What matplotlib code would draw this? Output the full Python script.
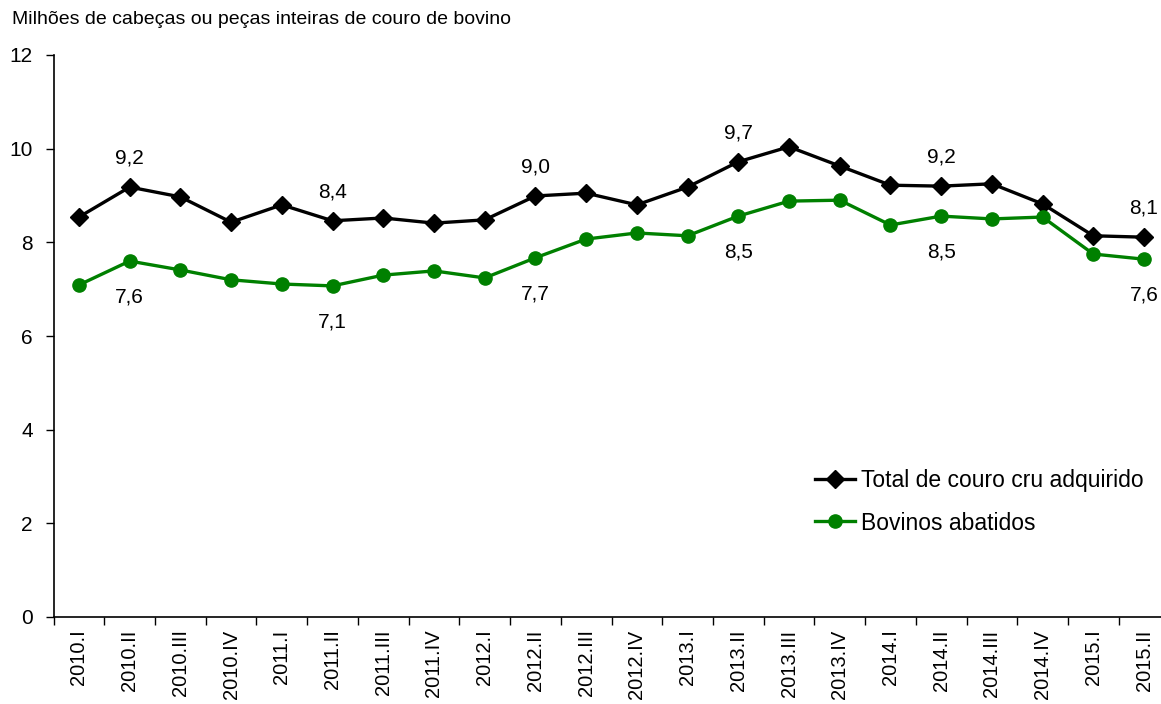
import matplotlib.pyplot as plt
import numpy as np

plt.rcParams['font.family'] = ['Liberation Sans', 'DejaVu Sans']

quarters = ['2010.I', '2010.II', '2010.III', '2010.IV',
            '2011.I', '2011.II', '2011.III', '2011.IV',
            '2012.I', '2012.II', '2012.III', '2012.IV',
            '2013.I', '2013.II', '2013.III', '2013.IV',
            '2014.I', '2014.II', '2014.III', '2014.IV',
            '2015.I', '2015.II']

total_couro = [8.54, 9.18, 8.97, 8.43, 8.80, 8.46, 8.52, 8.41, 8.48, 8.99, 9.05,
               8.80, 9.18, 9.72, 10.04, 9.63, 9.22, 9.20, 9.25, 8.82, 8.14, 8.11]
bovinos = [7.09, 7.60, 7.41, 7.20, 7.11, 7.07, 7.30, 7.39, 7.24, 7.67, 8.07,
           8.20, 8.14, 8.56, 8.88, 8.90, 8.37, 8.56, 8.50, 8.54, 7.75, 7.64]

# labelled points: index -> text
total_labels = {1: '9,2', 5: '8,4', 9: '9,0', 13: '9,7', 17: '9,2', 21: '8,1'}
bov_labels = {1: '7,6', 5: '7,1', 9: '7,7', 13: '8,5', 17: '8,5', 21: '7,6'}

fig = plt.figure(figsize=(11.61, 7.04), dpi=100)
ax = fig.add_axes([53.6 / 1161, 87 / 704, (1169.4 - 53.6) / 1161, 562 / 704])

x = np.arange(len(quarters))
green = '#008000'
ax.plot(x, total_couro, color='black', lw=2.4, marker='D', markersize=9,
        label='Total de couro cru adquirido')
ax.plot(x, bovinos, color=green, lw=2.4, marker='o', markersize=9.5,
        label='Bovinos abatidos')

for i, t in total_labels.items():
    ax.annotate(t, (x[i], total_couro[i]), xytext=(0, 21), textcoords='offset points',
                ha='center', va='center', fontsize=15)
for i, t in bov_labels.items():
    ax.annotate(t, (x[i], bovinos[i]), xytext=(0, -26), textcoords='offset points',
                ha='center', va='center', fontsize=15)

ax.set_xlim(-0.5, len(quarters) - 0.5)
ax.set_ylim(0, 12)
ax.set_yticks(range(0, 13, 2))
ax.tick_params(axis='y', direction='out', length=6, width=1, labelsize=15, pad=9)

ax.set_xticks(x)
ax.set_xticklabels(quarters, rotation=90, fontsize=14.5)
ax.set_xticks(np.arange(-0.5, len(quarters), 1), minor=True)
ax.tick_params(axis='x', which='major', length=0, pad=9)
ax.tick_params(axis='x', which='minor', direction='out', length=6, width=1)

for s in ['top', 'right']:
    ax.spines[s].set_visible(False)
ax.spines['left'].set_linewidth(1.2)
ax.spines['bottom'].set_linewidth(1.2)

ax.legend(loc='upper left', bbox_to_anchor=(0.664, 0.30), frameon=False,
          fontsize=16.5, handlelength=1.75, handletextpad=0.25, labelspacing=0.85)

fig.text(12 / 1161, 1 - 20 / 704, 'Milhões de cabeças ou peças inteiras de couro de bovino',
         fontsize=14, va='center', ha='left')

fig.savefig('out.png', dpi=100)
